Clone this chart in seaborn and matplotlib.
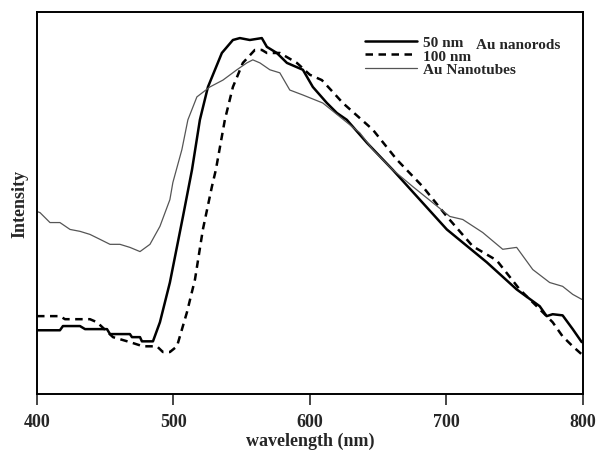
import numpy as np
import pandas as pd
import matplotlib
matplotlib.use("Agg")
import matplotlib.pyplot as plt
import seaborn as sns

# spettri (lunghezza d'onda in nm, intensita' in unita' arbitrarie)
wl_50 = [400, 416.8, 419, 431.5, 435.2, 451.3, 453.5, 468.1, 469.6, 475.5, 476.9, 485.0,
         490.1, 497.4, 507.0, 513.6, 519.4, 525.3, 535.5, 543.6, 548.7, 556.0, 564.8,
         568.5, 575.8, 583.2, 594.9, 602.2, 612.5, 619.8, 627.1, 641.8, 660.8, 680.6,
         700.4, 729.7, 751.6, 768.5, 773.6, 778.0, 785.3, 792.7, 799.3]
int_50 = [16.7, 16.7, 17.8, 17.8, 17.0, 17.0, 15.7, 15.7, 14.9, 14.9, 13.8, 13.8,
          18.8, 29.2, 46.5, 58.7, 71.8, 80.4, 89.3, 92.7, 93.2, 92.7, 93.2,
          90.9, 89.3, 86.7, 84.9, 80.4, 76.2, 73.6, 71.8, 65.8, 58.7, 50.9,
          43.1, 34.5, 27.4, 23.0, 20.4, 20.9, 20.6, 17.0, 13.6]

wl_100 = [400, 416.8, 420.5, 438.8, 444.0, 455.7, 468.1, 477.7, 487.9, 492.3, 497.4,
          502.6, 509.9, 515.8, 521.6, 528.2, 531.1, 537.7, 543.6, 550.9, 559.7, 564.8,
          568.5, 578.0, 590.5, 600.0, 608.8, 616.8, 624.2, 646.2, 663.7, 682.8, 700.4,
          719.4, 737.0, 753.8, 766.3, 778.0, 785.3, 792.7, 799.3]
int_100 = [20.4, 20.4, 19.6, 19.6, 18.8, 14.9, 13.6, 12.5, 12.5, 11.0, 11.0,
           12.5, 21.4, 30.0, 43.1, 54.3, 58.7, 71.8, 80.4, 86.7, 90.1, 90.1,
           89.3, 89.3, 86.7, 83.6, 82.2, 79.1, 76.2, 69.2, 61.4, 54.3, 46.5,
           38.7, 35.0, 27.4, 23.0, 18.8, 15.1, 12.5, 10.4]

wl_tubes = [400, 402.2, 409.5, 416.8, 424.2, 431.5, 438.8, 446.2, 453.5, 460.8, 468.1,
            475.5, 482.8, 490.1, 497.4, 499.6, 506.2, 510.6, 517.2, 526.7, 536.3, 546.5,
            553.8, 558.2, 563.4, 570.7, 578.0, 585.3, 594.9, 609.5, 622.0, 636.6, 646.2,
            660.8, 675.5, 690.1, 702.6, 712.1, 726.7, 741.4, 751.6, 763.4, 775.8, 785.3,
            792.7, 799.3]
int_tubes = [47.8, 47.5, 44.9, 44.9, 43.1, 42.6, 41.8, 40.5, 39.2, 39.2, 38.4,
             37.3, 39.2, 43.9, 50.9, 55.4, 64.0, 71.8, 77.8, 80.4, 82.2, 84.9,
             86.7, 87.5, 86.7, 84.9, 84.1, 79.6, 78.3, 76.2, 72.6, 68.4, 64.0,
             58.7, 54.3, 50.1, 46.5, 45.7, 42.3, 37.9, 38.4, 32.6, 29.2, 28.2,
             26.1, 24.8]

sns.set_style("ticks")
plt.rcParams['font.family'] = ['Liberation Serif', 'DejaVu Serif']

fig = plt.figure(figsize=(5.97, 4.52), dpi=100)
ax = fig.add_axes([0.062, 0.126, 0.914, 0.845])

sns.lineplot(x=wl_50, y=int_50, ax=ax, color='black', lw=1.8, label='50 nm', sort=False)
sns.lineplot(x=wl_100, y=int_100, ax=ax, color='black', lw=1.8, label='100 nm', sort=False,
             linestyle=(0, (3, 2.2)))
sns.lineplot(x=wl_tubes, y=int_tubes, ax=ax, color='#555555', lw=0.9, label='Au Nanotubes', sort=False)

ax.set_xlim(400, 800)
ax.set_ylim(0, 100)
ax.set_xticks([400, 500, 600, 700, 800])
ax.set_yticks([])
ax.tick_params(axis='x', direction='out', length=8, width=1.2, labelsize=13, pad=6)
for lab in ax.get_xticklabels():
    lab.set_fontweight('bold')
for sp in ax.spines.values():
    sp.set_visible(True)
    sp.set_linewidth(1.4)
    sp.set_color('black')

ax.set_xlabel('wavelength (nm)', fontsize=13, fontweight='bold', labelpad=1)
ax.set_ylabel('Intensity', fontsize=13, fontweight='bold', labelpad=6)

leg = ax.legend(loc='upper left', bbox_to_anchor=(0.59, 0.955), frameon=False,
                fontsize=11, handlelength=3.4, handletextpad=0.4, labelspacing=0.0,
                borderaxespad=0)
for t in leg.get_texts():
    t.set_fontweight('bold')
ax.text(0.805, 0.914, 'Au nanorods', transform=ax.transAxes, fontsize=11,
        fontweight='bold', va='center', ha='left')

fig.savefig('out.png', dpi=100)
